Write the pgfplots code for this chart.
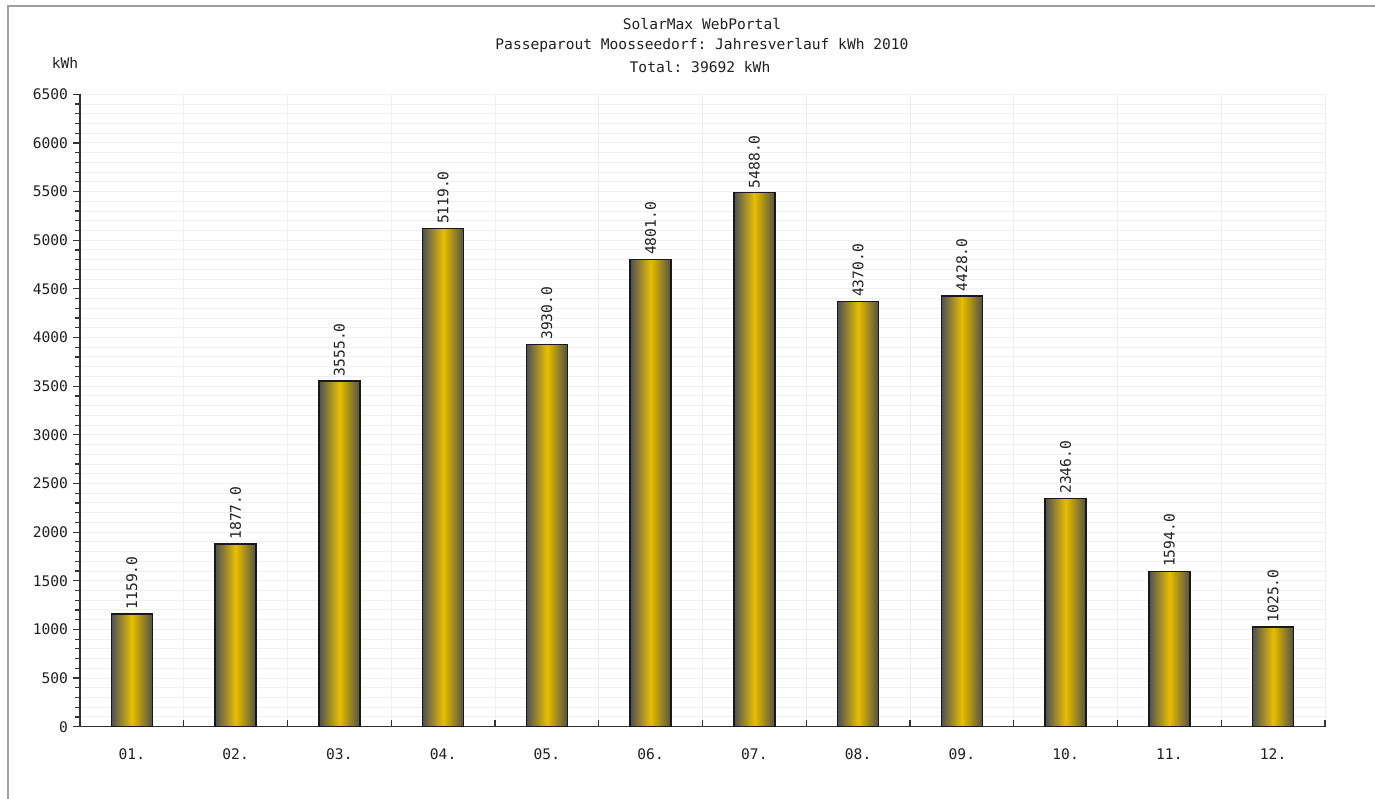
\documentclass[border=0pt]{standalone}
\usepackage{fontspec}
\setmonofont{DejaVu Sans Mono}
\usepackage{pgfplots}
\usepackage{pgfplotstable}
\pgfplotsset{compat=1.18}

\definecolor{barmid}{HTML}{E8BE00}
\definecolor{baredge}{HTML}{505050}
\definecolor{gridc}{HTML}{F0F0F0}
\definecolor{txt}{HTML}{202020}
\definecolor{frame}{HTML}{A0A0A0}

\newcommand{\chartfont}{\ttfamily\fontsize{7.3}{8.8}\selectfont}

% month, kWh
\pgfplotstableread{
m  kwh
1  1159
2  1877
3  3555
4  5119
5  3930
6  4801
7  5488
8  4370
9  4428
10 2346
11 1594
12 1025
}\monthly

\begin{document}
\begin{tikzpicture}
% 1px = 0.5pt, origin at the axis corner
\useasboundingbox (-40pt,-35.65pt) rectangle (647.5pt,363.35pt);
\draw[frame, line width=1pt] (-36pt,-36pt) -- (-36pt,360.35pt) -- (648pt,360.35pt);

\begin{axis}[
  at={(0,0)}, anchor=south west,
  scale only axis,
  width=622.5pt, height=316.2pt,
  xmin=0.5, xmax=12.5,
  ymin=0, ymax=6500,
  axis lines=left,
  axis line style={-, draw=black!80, line width=0.7pt},
  xtick={0.5,1.5,...,12.5},
  xticklabels={01.,02.,03.,04.,05.,06.,07.,08.,09.,10.,11.,12.},
  x tick label as interval,
  ytick={0,500,...,6500},
  minor y tick num=4,
  xmajorgrids, ymajorgrids, yminorgrids,
  major grid style={gridc, line width=0.5pt},
  minor grid style={gridc, line width=0.5pt},
  tick align=outside,
  major tick length=3.5pt,
  minor tick length=2.5pt,
  tick style={black!80, line width=0.6pt},
  xtick style={yshift=3.5pt},
  ticklabel style={font=\chartfont, text=txt},
  yticklabel style={xshift=1pt},
  xticklabel style={yshift=-4pt},
  /pgf/number format/assume math mode=true,
  /pgf/number format/1000 sep={},
  clip=false,
]
% one plot per bar so that each bar gets its own shading
\pgfplotsinvokeforeach{1,...,12}{
\addplot[ybar, bar width=20.5pt, draw=black!90, line width=0.7pt,
  left color=baredge, right color=baredge, middle color=barmid,
  restrict x to domain=#1:#1,
  nodes near coords={\pgfmathprintnumber[fixed,fixed zerofill,precision=1,1000 sep={},assume math mode=true]{\pgfplotspointmeta}},
  every node near coord/.append style={rotate=90, anchor=west, font=\chartfont, text=txt, inner sep=2pt}]
  table[x=m, y=kwh] {\monthly};
}
\end{axis}

\node[font=\chartfont, text=txt] at (311pt,351.35pt) {SolarMax WebPortal};
\node[font=\chartfont, text=txt] at (311pt,340.85pt) {Passeparout Moosseedorf: Jahresverlauf kWh 2010};
\node[font=\chartfont, text=txt] at (310pt,329.85pt) {Total: 39692 kWh};
\node[font=\chartfont, text=txt] at (-7.5pt,331.85pt) {kWh};
\end{tikzpicture}
\end{document}
